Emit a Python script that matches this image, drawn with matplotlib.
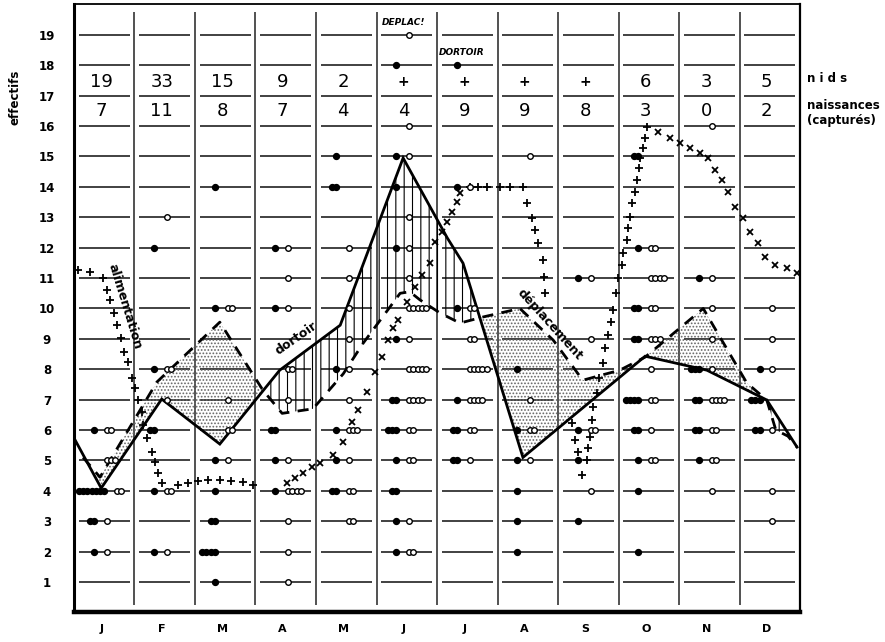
import numpy as np
import matplotlib
matplotlib.use("Agg")
from matplotlib import pyplot as plt

plt.rcParams['font.family'] = ['DejaVu Sans']
plt.rcParams['hatch.linewidth'] = 0.8

months = ['J', 'F', 'M', 'A', 'M', 'J', 'J', 'A', 'S', 'O', 'N', 'D']
rows = list(range(1, 20))
nids = ['19', '33', '15', '9', '2', '+', '+', '+', '+', '6', '3', '5']
naissances = ['7', '11', '8', '7', '4', '4', '9', '9', '8', '3', '0', '2']

# trait plein (x en mois, y en effectifs)
plein_x = [0, 0.45, 1.45, 2.41, 3.40, 4.40, 5.44, 6.17, 6.43, 7.42, 9.44, 10.46, 11.45, 11.95]
plein_y = [5.74, 4.09, 7.02, 5.54, 7.97, 9.45, 14.95, 12.32, 11.49, 5.1, 8.43, 7.97, 6.99, 5.44]

# trait tirete
tiret_x = [0.15, 0.43, 1.37, 2.41, 3.12, 3.44, 3.95, 4.45, 4.78, 5.39, 5.55, 5.72, 6.05, 6.38,
           6.76, 7.37, 7.92, 8.41, 9.02, 9.44, 10.40, 11.12, 11.45, 11.60, 11.80, 11.95]
tiret_y = [5.10, 4.45, 7.58, 9.55, 7.32, 6.55, 6.70, 7.85, 8.86, 10.50, 10.55, 10.28, 9.85, 9.52,
           9.72, 10.00, 8.96, 7.64, 7.97, 8.40, 10.00, 7.55, 6.99, 6.00, 5.80, 5.44]

# croix "+" (alimentation)
plus_x = [0.07, 0.26, 0.48, 0.55, 0.60, 0.66, 0.71, 0.78, 0.83, 0.89, 0.96, 1.01, 1.06, 1.12,
          1.14, 1.21, 1.29, 1.34, 1.39, 1.45, 1.72, 1.88, 2.05, 2.21, 2.41, 2.60, 2.79, 2.96,
          6.55, 6.68, 6.83, 7.04, 7.21, 7.42,
          7.49, 7.57, 7.62, 7.67, 7.75, 7.77, 7.79,
          8.23, 8.28, 8.33, 8.40, 8.48, 8.50, 8.53, 8.56, 8.58, 8.64, 8.68, 8.74, 8.78, 8.83,
          8.88, 8.91, 8.96, 8.99, 9.06, 9.07, 9.14, 9.16, 9.19, 9.22, 9.27, 9.31, 9.34, 9.36,
          9.40, 9.44, 9.47]
plus_y = [11.26, 11.2, 11.0, 10.6, 10.28, 9.85, 9.45, 9.03, 8.57, 8.24, 7.71, 7.38, 6.99, 6.59,
          6.16, 5.74, 5.28, 4.95, 4.59, 4.26, 4.19, 4.26, 4.32, 4.36, 4.36, 4.32, 4.29, 4.19,
          14.0, 14.0, 14.0, 14.0, 14.0, 14.0,
          13.47, 12.97, 12.58, 12.15, 11.59, 11.03, 10.5,
          6.23, 5.67, 5.28, 4.52, 5.01, 5.41, 5.77, 6.33, 6.76, 7.22, 7.7, 8.2, 8.70, 9.13,
          9.55, 9.95, 10.5, 11.0, 11.43, 11.82, 12.25, 12.64, 13.0, 13.47, 13.83, 14.22, 14.62, 14.95,
          15.28, 15.6, 15.97]

# croix "x"
croix_x = [3.52, 3.65, 3.79, 3.93, 4.07, 4.28, 4.45, 4.60, 4.69, 4.84, 4.98, 5.09, 5.19, 5.27,
           5.36, 5.50, 5.64, 5.75, 5.88, 5.97, 6.08, 6.17, 6.25, 6.33, 6.38,
           9.65, 9.85, 10.02, 10.18, 10.35, 10.48, 10.60, 10.71, 10.81, 10.93, 11.06, 11.17,
           11.31, 11.42, 11.59, 11.79, 11.95]
croix_y = [4.26, 4.42, 4.59, 4.78, 4.91, 5.18, 5.61, 6.26, 6.66, 7.25, 7.91, 8.40, 8.96, 9.36,
           9.62, 10.2, 10.7, 11.1, 11.49, 12.18, 12.51, 12.84, 13.17, 13.5, 13.8,
           15.8, 15.6, 15.44, 15.28, 15.11, 14.95, 14.55, 14.22, 13.83, 13.34, 12.97, 12.51,
           12.15, 11.69, 11.43, 11.33, 11.16]

# points par mois : (ligne, nb pleins, nb vides)
jan = [(6, 1, 2), (5, 0, 3), (4, 7, 2), (3, 2, 1), (2, 1, 1)]
feb = [(13, 0, 1), (12, 1, 0), (8, 1, 2), (7, 0, 1), (6, 2, 0), (4, 1, 2), (2, 1, 1)]
mar = [(14, 1, 0), (10, 1, 2), (7, 0, 1), (6, 0, 2), (5, 1, 1), (4, 1, 0), (3, 2, 0), (2, 4, 0), (1, 1, 0)]
apr = [(12, 1, 1), (11, 0, 1), (10, 1, 1), (8, 0, 2), (7, 0, 1), (6, 2, 0), (5, 1, 1), (4, 1, 4),
       (3, 0, 1), (2, 0, 1), (1, 0, 1)]
may = [(15, 1, 0), (14, 2, 0), (12, 0, 1), (11, 0, 1), (10, 0, 1), (9, 0, 1), (8, 1, 1), (7, 0, 1),
       (6, 1, 3), (5, 1, 1), (4, 2, 2), (3, 0, 2)]
jun = [(19, 0, 1), (18, 1, 0), (16, 0, 1), (15, 1, 1), (14, 1, 0), (13, 0, 1), (12, 1, 1), (11, 0, 1),
       (10, 0, 5), (9, 1, 1), (8, 0, 5), (7, 2, 4), (6, 3, 2), (5, 1, 2), (4, 2, 0), (3, 1, 1), (2, 1, 2)]
jul = [(18, 1, 0), (14, 1, 1), (10, 1, 2), (9, 0, 2), (8, 0, 5), (7, 1, 4), (6, 2, 2), (5, 2, 1)]
aug = [(15, 0, 1), (8, 1, 0), (7, 0, 1), (6, 1, 2), (5, 1, 1), (4, 1, 0), (3, 1, 0), (2, 1, 0)]
sep = [(11, 1, 1), (9, 0, 1), (6, 1, 2), (5, 1, 0), (4, 0, 1), (3, 1, 0)]
octo = [(15, 2, 0), (12, 1, 2), (11, 0, 4), (10, 2, 2), (9, 2, 3), (8, 0, 1), (7, 4, 2), (6, 2, 1),
        (5, 1, 2), (4, 1, 0), (2, 1, 0)]
nov = [(16, 0, 1), (11, 1, 1), (10, 0, 1), (9, 0, 1), (8, 3, 1), (7, 2, 4), (6, 2, 2), (5, 1, 2), (4, 0, 1)]
dec = [(10, 0, 1), (9, 0, 1), (8, 1, 1), (7, 3, 0), (6, 2, 1), (4, 0, 1), (3, 0, 1)]
points = [jan, feb, mar, apr, may, jun, jul, aug, sep, octo, nov, dec]

fig = plt.figure(figsize=(8.85, 6.42), dpi=100)
ax = fig.add_axes([0.0836, 0.046, 0.8204, 0.947])
ax.set_xlim(0, 12)
ax.set_ylim(0, 20)

# grille: separations verticales et petits traits horizontaux
ax.vlines(range(1, 12), 0.25, 19.75, color='#222222', lw=1.1, zorder=1)
for m in range(12):
    ax.hlines(rows, m + 0.08, m + 0.92, color='#333333', lw=1.3, zorder=1)

# zones pointillees / hachurees entre les deux courbes
xx = np.union1d(plein_x, tiret_x)
xx = xx[(xx >= tiret_x[0]) & (xx <= tiret_x[-1])]
s = np.interp(xx, plein_x, plein_y)
d = np.interp(xx, tiret_x, tiret_y)
ax.fill_between(xx, s, d, where=d > s, interpolate=True, facecolor='none',
                hatch='.....', edgecolor='#666666', linewidth=0, zorder=2)
ax.fill_between(xx, s, d, where=s > d, interpolate=True, facecolor='none',
                hatch='||', edgecolor='black', linewidth=0, zorder=2)

ax.plot(plein_x, plein_y, color='black', lw=2, zorder=3, solid_joinstyle='miter')
ax.plot(tiret_x, tiret_y, color='black', lw=2, ls=(0, (4, 3)), zorder=3)

ax.plot(plus_x, plus_y, ls='none', marker='+', ms=6, mew=1.3, color='black', zorder=4)
ax.plot(croix_x, croix_y, ls='none', marker='x', ms=4.5, mew=1.3, color='black', zorder=4)

fx, fy, ox, oy = [], [], [], []
for m, liste in enumerate(points):
    for r, nf, no in liste:
        start = 0.33 - (nf - 1) * 0.07 if nf else 0.33
        shift = max(0, 0.08 - start)
        for k in range(nf):
            fx.append(m + start + shift + k * 0.07)
            fy.append(r)
        for k in range(no):
            ox.append(m + 0.54 + shift + k * 0.07)
            oy.append(r)
ax.scatter(fx, fy, s=18, color='black', zorder=5)
ax.scatter(ox, oy, s=16, facecolor='white', edgecolor='black', linewidth=1.0, zorder=5)

# en-tete : nids / naissances
for m in range(12):
    ax.text(m + 0.45, 17.45, nids[m], ha='center', va='center', fontsize=13 if nids[m] != '+' else 10,
            fontweight='bold' if nids[m] == '+' else 'normal', zorder=6)
    ax.text(m + 0.45, 16.5, naissances[m], ha='center', va='center', fontsize=13, zorder=6)

ax.text(12.12, 17.55, 'n i d s', ha='left', va='center', fontsize=8.5, fontweight='bold',
        clip_on=False)
ax.text(12.12, 16.68, 'naissances', ha='left', va='center', fontsize=8.5, fontweight='bold',
        clip_on=False)
ax.text(12.12, 16.2, '(capturés)', ha='left', va='center', fontsize=8.5, fontweight='bold',
        clip_on=False)

ax.text(5.44, 19.4, 'DEPLAC!', ha='center', va='center', fontsize=6.5, fontweight='bold',
        style='italic')
ax.text(6.41, 18.42, 'DORTOIR', ha='center', va='center', fontsize=6.5, fontweight='bold',
        style='italic')
ax.text(0.84, 10.05, 'alimentation', rotation=-73, ha='center', va='center', fontsize=9,
        fontweight='bold', rotation_mode='anchor')
ax.text(3.67, 9.03, 'dortoir', rotation=35, ha='center', va='center', fontsize=9,
        fontweight='bold', rotation_mode='anchor')
ax.text(7.87, 9.49, 'déplacement', rotation=-48, ha='center', va='center', fontsize=9,
        fontweight='bold', rotation_mode='anchor')

ax.set_yticks(rows)
ax.set_yticklabels([str(r) for r in rows], fontsize=8.5, fontweight='bold')
ax.set_xticks([m + 0.45 for m in range(12)])
ax.set_xticklabels(months, fontsize=8, fontweight='bold')
for lab in ax.get_yticklabels():
    lab.set_horizontalalignment('center')
ax.tick_params(axis='y', length=0, pad=19.5)
ax.tick_params(axis='x', length=0, pad=8)

ax.spines['left'].set_linewidth(2.2)
ax.spines['bottom'].set_linewidth(3.2)
ax.spines['top'].set_linewidth(1.3)
ax.spines['right'].set_linewidth(1.6)

fig.text(0.017, 0.849, 'effectifs', rotation=90, ha='center', va='center', fontsize=8.5,
         fontweight='bold')

fig.savefig('out.png', dpi=100)
